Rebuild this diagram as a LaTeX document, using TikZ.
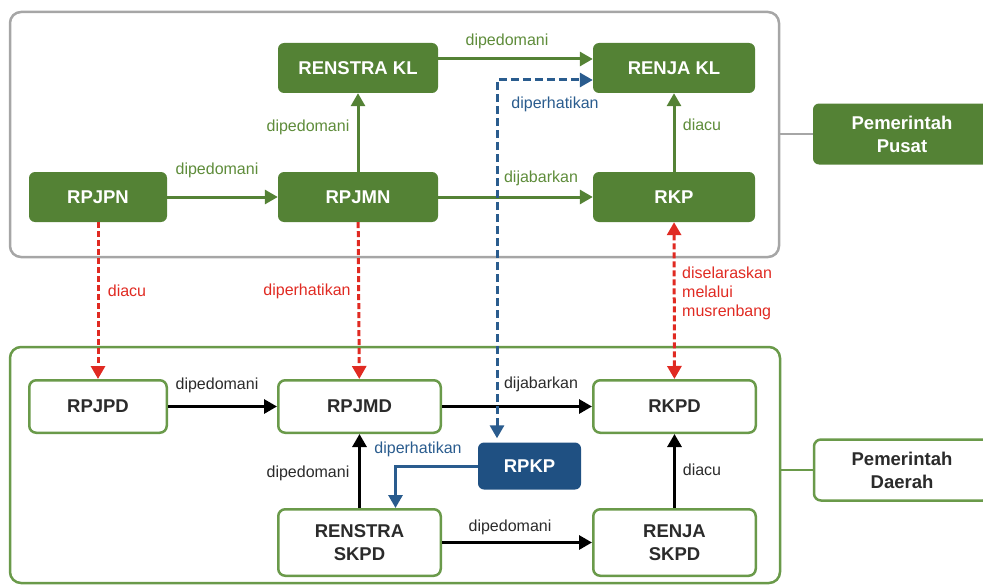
\documentclass[tikz,border=0pt]{standalone}
\usepackage{fontspec}
\setmainfont{Liberation Sans}
\usetikzlibrary{arrows.meta}
\definecolor{gfill}{HTML}{548235}
\definecolor{gline}{HTML}{6A9A4A}
\definecolor{gframe}{HTML}{A6A6A6}
\definecolor{glabel}{HTML}{5E8C3A}
\definecolor{dtext}{HTML}{2B2B2B}
\definecolor{rline}{HTML}{E02A22}
\definecolor{bfill}{HTML}{1F5082}
\definecolor{bline}{HTML}{2A5C8E}
\begin{document}
\begin{tikzpicture}[x=1pt,y=-1pt,
  boxfont/.style={font=\fontsize{18.5}{23}\selectfont\bfseries},
  gbox/.style={boxfont, rounded corners=6pt, fill=gfill, draw=none, text=white, minimum height=50pt, align=center, inner sep=0pt},
  wbox/.style={boxfont, rounded corners=7pt, fill=white, draw=gline, line width=2.5pt, text=dtext, minimum height=52.5pt, align=center, inner sep=0pt},
  frame/.style={rounded corners=11pt, line width=2.5pt, inner sep=0pt},
  lbl/.style={font=\fontsize{16}{19}\selectfont, inner sep=0pt},
  tip/.style={-{Triangle[length=13pt,width=14pt]}},
  dtip/.style={{Triangle[length=13pt,width=14pt]}-{Triangle[length=13pt,width=14pt]}},
  garrow/.style={tip, draw=gfill, line width=3pt},
  karrow/.style={tip, draw=black, line width=3pt},
  rarrow/.style={draw=rline, line width=3pt, dash pattern=on 6pt off 3pt},
  barrow/.style={draw=bline, line width=3pt, dash pattern=on 8pt off 4pt},
]
\useasboundingbox (0,0) rectangle (983,586);

% frames
\node[frame, draw=gframe, minimum width=769pt, minimum height=245pt] (topf) at (394.5,134.5) {};
\node[frame, draw=gline, minimum width=770pt, minimum height=236pt] (botf) at (395,465) {};

% pusat / daerah
\node[gbox, minimum width=178pt, minimum height=61pt] (pusat) at (902,134) {Pemerintah\\Pusat};
\node[wbox, minimum width=176pt, minimum height=61pt] (daerah) at (902,470) {Pemerintah\\Daerah};
\draw[gframe, line width=2.5pt] (topf.east |- pusat) -- (pusat.west);
\draw[gline, line width=2.5pt] (botf.east |- daerah) -- (daerah.west);

% top boxes
\node[gbox, minimum width=160pt] (renstrakl) at (358,68) {RENSTRA KL};
\node[gbox, minimum width=162pt] (renjakl) at (674,68) {RENJA KL};
\node[gbox, minimum width=138pt] (rpjpn) at (98,197) {RPJPN};
\node[gbox, minimum width=160pt] (rpjmn) at (358,197) {RPJMN};
\node[gbox, minimum width=162pt] (rkp) at (674,197) {RKP};

% bottom boxes
\node[wbox, minimum width=137.5pt] (rpjpd) at (98,406.5) {RPJPD};
\node[wbox, minimum width=162.5pt] (rpjmd) at (359.5,406.5) {RPJMD};
\node[wbox, minimum width=162.5pt] (rkpd) at (674.5,406.5) {RKPD};
\node[wbox, minimum width=162.5pt, minimum height=66.5pt] (renstraskpd) at (359.5,542.5) {RENSTRA\\SKPD};
\node[wbox, minimum width=162.5pt, minimum height=66.5pt] (renjaskpd) at (674.5,542.5) {RENJA\\SKPD};
\node[gbox, fill=bfill, minimum width=103pt, minimum height=47pt] (rpkp) at (529.5,466) {RPKP};

% green arrows
\draw[garrow] (rpjpn) -- (rpjmn);
\draw[garrow] (rpjmn) -- (renstrakl);
\draw[garrow] ([yshift=9pt]renstrakl.east) -- ([yshift=9pt]renjakl.west);
\draw[garrow] (rpjmn) -- (rkp);
\draw[garrow] (rkp) -- (renjakl);

% black arrows
\draw[karrow] (rpjpd) -- (rpjmd);
\draw[karrow] (rpjmd) -- (rkpd);
\draw[karrow] (renstraskpd) -- (rpjmd);
\draw[karrow] (renstraskpd) -- (renjaskpd);
\draw[karrow] (renjaskpd) -- (rkpd);

% red dashed arrows
\draw[rarrow, tip] (rpjpn) -- (rpjpd);
\draw[rarrow, tip] (rpjmn) -- (rpjmd);
\draw[rarrow, dtip] (rkp) -- (rkpd);

% blue dashed arrow
\coordinate (bturn) at (497,80);
\draw[barrow, dtip] ([yshift=4pt]rpkp.north -| bturn) -- (bturn) -- (renjakl.west |- bturn);

% blue solid arrow
\draw[tip, draw=bline, line width=3pt] (rpkp.west) -| ([xshift=36pt]renstraskpd.north);

% labels
\node[lbl, text=glabel] (l1) at (217,170) {dipedomani};
\node[lbl, text=glabel] (l2) at (308,127) {dipedomani};
\node[lbl, text=glabel] (l3) at (507,41) {dipedomani};
\node[lbl, text=bline] (l4) at (555,104) {diperhatikan};
\node[lbl, text=glabel] (l5) at (541,178) {dijabarkan};
\node[lbl, text=glabel] (l6) at (702,125) {diacu};
\node[lbl, text=rline] (l7) at (127,291) {diacu};
\node[lbl, text=rline] (l8) at (307,291) {diperhatikan};
\node[lbl, text=rline, anchor=north west, align=left] (l9) at (682,267) {diselaraskan\\melalui\\musrenbang};
\node[lbl, text=dtext] (l10) at (217,385) {dipedomani};
\node[lbl, text=dtext] (l11) at (541,384) {dijabarkan};
\node[lbl, text=bline] (l12) at (418,449) {diperhatikan};
\node[lbl, text=dtext] (l13) at (308,473) {dipedomani};
\node[lbl, text=dtext] (l14) at (702,470) {diacu};
\node[lbl, text=dtext] (l15) at (510,527) {dipedomani};
\end{tikzpicture}
\end{document}
